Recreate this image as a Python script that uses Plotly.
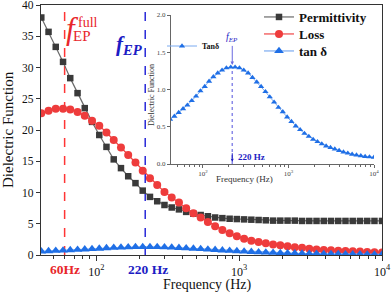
import math
import plotly.graph_objects as go

# ---- data ----
freq_hz = [41.2, 46.3, 52.0, 58.5, 65.7, 73.9, 83.0, 93.3, 104.9, 117.8,
           132.4, 148.8, 167.2, 188.0, 211.3, 237.5, 266.9, 300.0, 337.2, 378.9,
           425.6, 478.3, 537.7, 604.0, 678.9, 763.0, 857.6, 963.6, 1083, 1217,
           1368, 1537, 1728, 1941, 2182, 2452, 2756, 3097, 3480, 3911,
           4395, 4939, 5551, 6238, 7011, 7879, 8855, 10000]

permittivity = [38.0, 35.7, 33.3, 30.9, 28.3, 25.9, 23.5, 21.3, 19.2, 17.3,
                15.3, 13.9, 12.6, 11.5, 10.3, 9.3, 8.6, 8.0, 7.6, 7.3,
                6.9, 6.6, 6.4, 6.2, 6.0, 5.9, 5.8, 5.75, 5.7, 5.65,
                5.6, 5.55, 5.5, 5.5, 5.5, 5.5, 5.45, 5.45, 5.45, 5.45,
                5.45, 5.45, 5.45, 5.45, 5.45, 5.45, 5.45, 5.45]

loss = [22.7, 23.1, 23.4, 23.4, 23.3, 22.9, 22.3, 21.5, 20.7, 19.6,
        18.4, 17.2, 16.0, 14.8, 13.5, 12.3, 11.2, 10.1, 9.2, 8.4,
        7.5, 6.7, 6.0, 5.3, 4.6, 4.0, 3.5, 3.0, 2.6, 2.3,
        2.1, 1.9, 1.7, 1.55, 1.4, 1.25, 1.15, 1.0, 0.9, 0.8,
        0.75, 0.7, 0.65, 0.6, 0.55, 0.5, 0.45, 0.42]

tan_delta = [0.60, 0.64, 0.69, 0.74, 0.79, 0.85, 0.91, 0.98, 1.04, 1.11,
             1.17, 1.22, 1.26, 1.29, 1.30, 1.30, 1.29, 1.26, 1.22, 1.16,
             1.10, 1.04, 0.97, 0.90, 0.83, 0.76, 0.70, 0.63, 0.57, 0.51,
             0.46, 0.41, 0.37, 0.33, 0.30, 0.27, 0.24, 0.22, 0.20, 0.18,
             0.16, 0.145, 0.13, 0.12, 0.11, 0.10, 0.095, 0.09]

f_full_ep = 60
f_ep = 220
x_tick_vals = [100, 1000, 10000]
x_tick_text = ["10<sup>2</sup>", "10<sup>3</sup>", "10<sup>4</sup>"]
minor_vals = [50, 60, 70, 80, 90, 200, 300, 400, 500, 600, 700, 800, 900,
              2000, 3000, 4000, 5000, 6000, 7000, 8000, 9000]
y_tick_vals = [0, 5, 10, 15, 20, 25, 30, 35, 40]
inset_y_ticks = [0.0, 0.5, 1.0, 1.5, 2.0]

SERIF = "Liberation Serif"
RED = "#e8262b"
BLUE = "#1c1cc4"

fig = go.Figure()

# reference lines (main)
fig.add_trace(go.Scatter(x=[f_full_ep, f_full_ep], y=[0, 40], mode="lines",
                         line=dict(color="#ff3535", width=1.5, dash="dash"),
                         showlegend=False, hoverinfo="skip"))
fig.add_trace(go.Scatter(x=[f_ep, f_ep], y=[0, 40], mode="lines",
                         line=dict(color="#2a2ad8", width=1.5, dash="dash"),
                         showlegend=False, hoverinfo="skip"))

fig.add_trace(go.Scatter(x=freq_hz, y=permittivity, mode="lines+markers", name="Permittivity",
                         legend="legend",
                         line=dict(color="#6a6a6a", width=1.2),
                         marker=dict(symbol="square", size=6.5, color="#3a3a3a")))
fig.add_trace(go.Scatter(x=freq_hz, y=loss, mode="lines+markers", name="Loss",
                         legend="legend3",
                         line=dict(color="#f04545", width=1.2),
                         marker=dict(symbol="circle", size=8, color="#ee3c3c")))
fig.add_trace(go.Scatter(x=freq_hz, y=tan_delta, mode="lines+markers", name="tan δ",
                         legend="legend4",
                         line=dict(color="#7aaaf0", width=1.2),
                         marker=dict(symbol="triangle-up", size=8.5, color="#1f6fe6")))

# inset
fig.add_trace(go.Scatter(x=[f_ep, f_ep], y=[0, 1.3], mode="lines", xaxis="x2", yaxis="y2",
                         line=dict(color="#8a8ae8", width=1.5, dash="dot"),
                         showlegend=False, hoverinfo="skip"))
fig.add_trace(go.Scatter(x=freq_hz, y=tan_delta, mode="lines+markers", name="Tanδ",
                         xaxis="x2", yaxis="y2", legend="legend2",
                         line=dict(color="#7aaaf0", width=1),
                         marker=dict(symbol="triangle-up", size=5.5, color="#1f6fe6")))

W, H = 391, 294
L, R, T, B = 41, 9, 5, 39
pw, ph = W - L - R, H - T - B


def px(xp):
    return (xp - L) / pw


def py(yp):
    return (H - B - yp) / ph


def leg(xp, yp, size):
    return dict(x=px(xp), y=py(yp), xanchor="left", yanchor="middle",
                bgcolor="rgba(0,0,0,0)", font=dict(size=size, family=SERIF, weight="bold"),
                itemwidth=30, tracegroupgap=0)


axis_line = dict(showline=True, linecolor="#333333", linewidth=1.2)
fig.update_layout(
    width=W, height=H, margin=dict(l=L, r=R, t=T, b=B, autoexpand=False),
    paper_bgcolor="white", plot_bgcolor="white",
    font=dict(family=SERIF, color="#111111", size=12),
    xaxis=dict(type="log", range=[math.log10(41.0), 4.0], mirror=True, **axis_line,
               ticks="outside", ticklen=5, tickwidth=1, tickcolor="#333",
               tickvals=x_tick_vals, ticktext=x_tick_text, tickfont=dict(size=12),
               ticklabeloverflow="allow",
               minor=dict(ticks="outside", ticklen=3, tickvals=minor_vals, tickcolor="#333"),
               showgrid=False, zeroline=False, automargin=False),
    yaxis=dict(range=[0, 40], mirror=True, **axis_line,
               ticks="outside", ticklen=4, tickcolor="#333",
               tickvals=y_tick_vals, ticklabeloverflow="allow",
               tickfont=dict(size=11.5), showgrid=False, zeroline=False, automargin=False),
    xaxis2=dict(type="log", range=[1.626, 4.0], domain=[px(171), px(374)], anchor="y2",
                showline=True, linecolor="#666", linewidth=1,
                ticks="outside", ticklen=3, tickcolor="#666",
                tickvals=x_tick_vals, ticktext=x_tick_text,
                minor=dict(ticks="outside", ticklen=2, tickvals=minor_vals, tickcolor="#666"),
                tickfont=dict(size=7, color="#444"), showgrid=False, zeroline=False),
    yaxis2=dict(range=[0, 2], domain=[py(164), py(15)], anchor="x2",
                showline=True, linecolor="#666", linewidth=1,
                ticks="outside", ticklen=3, tickcolor="#666",
                tickvals=inset_y_ticks, tickformat=".1f",
                tickfont=dict(size=7, color="#444"), showgrid=False, zeroline=False),
    legend=leg(259, 17, 13),
    legend3=leg(259, 34, 13),
    legend4=leg(259, 51, 13),
    legend2=leg(162, 46, 8),
)


def note(text, x, y, size, color="#111111", xref="paper", yref="paper", **kw):
    d = dict(text=text, xref=xref, yref=yref, x=x, y=y, showarrow=False,
             xanchor="center", yanchor="middle",
             font=dict(size=size, color=color, family=SERIF))
    d.update(kw)
    return d


ann = []
# axis titles
ann.append(note("Frequency (Hz)", px(207), py(285), 14))
ann.append(note("Dielectric Function", px(8), py(130), 15, textangle=-90))
# tick-row labels
ann.append(note("<b>60Hz</b>", math.log10(f_full_ep), py(269), 13.5, RED, xref="x"))
ann.append(note("<b>220 Hz</b>", math.log10(f_ep) + 0.02, py(269), 13.5, BLUE, xref="x"))
# f_EP^full
ann.append(note("<i>f</i>", px(72), py(29), 31, RED))
ann.append(note("full", px(88), py(23), 14, RED))
ann.append(note("EP", px(82), py(36), 15, RED))
# f_EP (main)
ann.append(note("<b><i>f</i><sub><i>EP</i></sub></b>", px(129), py(45), 21, BLUE))
# inset annotations
ann.append(note("Frequency (Hz)", px(244), py(179), 9, "#333"))
ann.append(note("Dielectric Function", px(151), py(95), 8, "#333", textangle=-90))
ann.append(dict(text="<i>f</i><sub><i>EP</i></sub>", xref="x2", yref="y2",
                x=math.log10(f_ep), y=1.33, ax=0, ay=-27, showarrow=True,
                arrowhead=2, arrowsize=0.7, arrowwidth=1, arrowcolor="#6a6ae0",
                font=dict(size=10, color=BLUE, family=SERIF)))
ann.append(dict(text="", xref="x2", yref="y2", x=math.log10(f_ep), y=0.03, ax=0, ay=-10,
                showarrow=True, arrowhead=2, arrowsize=0.6, arrowwidth=1, arrowcolor=BLUE))
ann.append(note("<b>220 Hz</b>", math.log10(f_ep) + 0.04, 0.09, 9, BLUE,
                xref="x2", yref="y2", xanchor="left"))
fig.update_layout(annotations=ann)

fig.write_html("out.html", config={"displayModeBar": False},
               post_script="document.body.style.margin='0';document.body.style.padding='0';")
